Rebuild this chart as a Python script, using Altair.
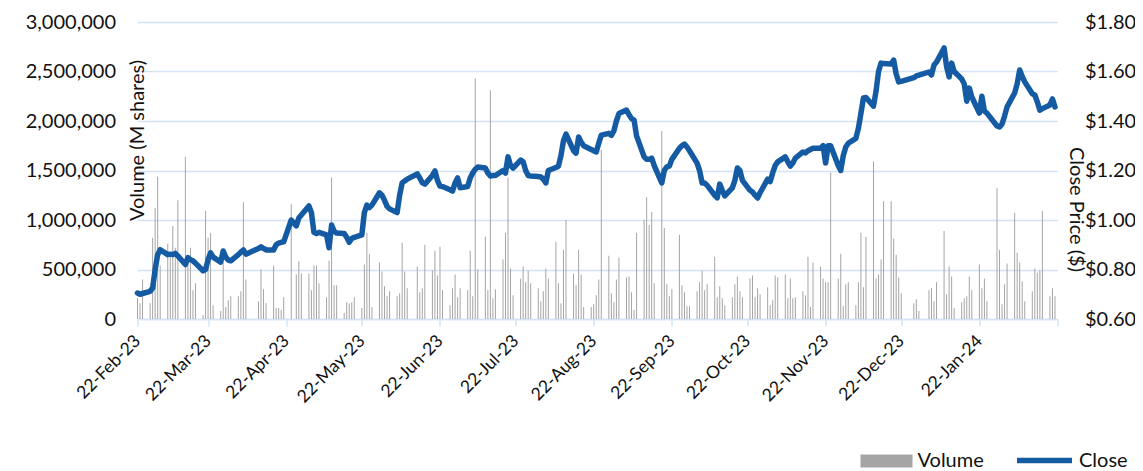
import altair as alt
import pandas as pd

# ASX non-trading days inside the period
holidays = ["2023-04-07", "2023-04-10", "2023-04-25", "2023-06-12",
            "2023-12-25", "2023-12-26", "2024-01-01", "2024-01-26"]

# Close price ($), one value per trading day (rows = Wed..Tue weeks)
close = [
    0.705, 0.700, 0.703, 0.712, 0.725,
    0.80, 0.86, 0.88, 0.86, 0.862,
    0.86, 0.865, 0.855, 0.82, 0.848,
    0.84, 0.835, 0.826, 0.795, 0.80,
    0.84, 0.867, 0.85, 0.83, 0.875,
    0.85, 0.838, 0.835, 0.86, 0.87,
    0.879, 0.862, 0.885,
    0.892, 0.885, 0.879, 0.879, 0.90,
    0.907, 0.91, 0.912, 1.0,
    0.976, 1.008, 1.02, 1.057, 1.03,
    0.95, 0.945, 0.95, 0.94, 0.888,
    0.98, 0.955, 0.947, 0.945, 0.93,
    0.91, 0.925, 0.93, 0.94, 1.03,
    1.06, 1.05, 1.06, 1.11, 1.10,
    1.08, 1.055, 1.045, 1.03, 1.10,
    1.15, 1.158, 1.165, 1.186,
    1.17, 1.15, 1.145, 1.18, 1.198,
    1.16, 1.137, 1.135, 1.122, 1.117,
    1.15, 1.17, 1.13, 1.135, 1.17,
    1.19, 1.205, 1.214, 1.21, 1.19,
    1.178, 1.18, 1.18, 1.20, 1.19,
    1.255, 1.22, 1.21, 1.242, 1.235,
    1.20, 1.18, 1.178, 1.176, 1.174,
    1.165, 1.15, 1.20, 1.212, 1.218,
    1.26, 1.32, 1.347, 1.28, 1.27,
    1.335, 1.315, 1.30, 1.285, 1.28,
    1.275, 1.31, 1.343, 1.35, 1.342,
    1.36, 1.40, 1.43, 1.444, 1.425,
    1.41, 1.404, 1.34, 1.255, 1.245,
    1.245, 1.25, 1.22, 1.15, 1.20,
    1.215, 1.218, 1.245, 1.29, 1.30,
    1.307, 1.295, 1.28, 1.23, 1.20,
    1.15, 1.15, 1.14, 1.10, 1.09,
    1.145, 1.12, 1.097, 1.13, 1.16,
    1.21, 1.20, 1.16, 1.12, 1.113,
    1.10, 1.089, 1.11, 1.165, 1.155,
    1.19, 1.22, 1.235, 1.255, 1.235,
    1.218, 1.23, 1.25, 1.275, 1.271,
    1.28, 1.285, 1.29, 1.29, 1.30,
    1.23, 1.30, 1.30, 1.22, 1.20,
    1.26, 1.295, 1.31, 1.33, 1.37,
    1.43, 1.493, 1.495, 1.46, 1.52,
    1.60, 1.634, 1.632, 1.63, 1.646,
    1.59, 1.558, 1.56,
    1.575, 1.582, 1.585, 1.598,
    1.586, 1.626, 1.638, 1.695, 1.62,
    1.578, 1.634, 1.60, 1.57, 1.55,
    1.48, 1.533, 1.497, 1.432, 1.50,
    1.44, 1.432, 1.38, 1.376,
    1.388, 1.42, 1.457, 1.513, 1.55,
    1.606, 1.58, 1.558, 1.51, 1.505,
    1.477, 1.444, 1.45, 1.465, 1.489,
    1.457,
]

# Daily volume, thousands of shares
volume_k = [
    210, 160, 400, 160, 820,
    1120, 1440, 540, 760, 630,
    940, 720, 1200, 1640, 630,
    720, 290, 360, 40, 1090,
    820, 870, 140, 80, 570,
    120, 190, 230, 230, 280,
    1180, 400, 180,
    500, 300, 160, 540, 110,
    110, 90, 220, 1160,
    450, 580, 460, 460, 290,
    540, 540, 360, 220, 590,
    1430, 340, 340, 60, 170,
    160, 170, 220, 110, 550,
    870, 660, 120, 570, 480,
    330, 230, 280, 230, 260,
    770, 480, 310, 530,
    270, 310, 750, 490, 690,
    440, 730, 290, 140, 310,
    450, 220, 310, 290, 690,
    230, 2430, 500, 830, 290,
    2310, 210, 300, 600, 870,
    1430, 510, 240, 410, 530,
    370, 490, 360, 310, 180,
    280, 510, 410, 780, 360,
    160, 700, 1000, 460, 340,
    700, 450, 120, 120, 150,
    240, 400, 1710, 640, 260,
    170, 400, 620, 420, 430,
    270, 90, 870, 1000, 1230,
    950, 1080, 360, 1900, 920,
    350, 230, 300, 850, 340,
    270, 130, 130, 280, 370,
    490, 290, 350, 630, 220,
    330, 210, 140, 220, 350,
    430, 280, 220, 410, 440,
    220, 310, 250, 320, 140,
    190, 440, 420, 450, 210,
    410, 210, 220, 280, 240,
    630, 120, 570, 530, 410,
    370, 370, 1480, 410, 660,
    130, 350, 370, 140, 370,
    870, 320, 830, 1590, 410,
    450, 600, 1190, 1190, 810,
    650, 420, 260,
    160, 200, 80, 290,
    310, 180, 370, 890, 250,
    530, 430, 110, 170, 210,
    230, 430, 290, 550, 310,
    410, 180, 1320, 700,
    150, 350, 560, 1070, 670,
    570, 380, 180, 280, 510,
    470, 490, 1090, 230, 310,
    230,
]

vol_ticks = [0, 500000, 1000000, 1500000, 2000000, 2500000, 3000000]
price_ticks = [0.6, 0.8, 1.0, 1.2, 1.4, 1.6, 1.8]
tick_months = [(2023, m) for m in range(2, 13)] + [(2024, 1), (2024, 2)]

dates = [d.strftime("%Y-%m-%d") for d in pd.bdate_range("2023-02-22", "2024-02-21")
         if d.strftime("%Y-%m-%d") not in holidays]

df = pd.DataFrame({
    "date": dates,
    "close": close,
    "volume": [v * 1000 for v in volume_k],
    "vol_series": "Volume",
    "close_series": "Close",
})

GRID = "#D3E4F6"
BLUE = "#155BA3"
GRAY = "#A5A5A5"
FONT = "Lato"

x_enc = alt.X(
    "date:T",
    scale=alt.Scale(
        type="utc",
        padding=0,
        domain=[alt.DateTime(year=2023, month=2, date=22, utc=True),
                alt.DateTime(year=2024, month=2, date=22, utc=True)],
    ),
    axis=alt.Axis(
        title=None,
        values=[alt.DateTime(year=y, month=m, date=22, utc=True) for (y, m) in tick_months],
        format="%d-%b-%y",
        labelExpr="datum.value > 1708000000000 ? '' : datum.label",
        labelAngle=-45,
        labelAlign="right",
        labelBaseline="middle",
        labelPadding=12,
        labelFontSize=17.5,
        grid=False,
        domainColor=GRID,
        domainWidth=1.5,
        tickColor=GRID,
        tickWidth=1.5,
        tickSize=7,
        labelOverlap=False,
    ),
)

bars = alt.Chart(df).mark_bar(width=1).encode(
    x=x_enc,
    y=alt.Y(
        "volume:Q",
        scale=alt.Scale(domain=[0, 3000000], nice=False, zero=True),
        axis=alt.Axis(
            orient="left",
            values=vol_ticks,
            format=",d",
            title="Volume (M shares)",
            titleAngle=-90,
            titleX=0,
            titleY=118,
            titleAlign="center",
            titleBaseline="middle",
            titleFontSize=20,
            titleFontWeight="normal",
            labelFontSize=20,
            labelPadding=22,
            grid=True,
            gridColor=GRID,
            gridWidth=1.5,
            domain=False,
            ticks=False,
        ),
    ),
    fill=alt.Fill(
        "vol_series:N",
        scale=alt.Scale(domain=["Volume"], range=[GRAY]),
        legend=alt.Legend(
            title=None,
            orient="none",
            legendX=723,
            legendY=413,
            symbolType="M-1,-0.25H1V0.25H-1Z",
            symbolSize=2704,
            symbolStrokeWidth=0,
            labelOffset=5,
            labelFontSize=20,
            padding=0,
        ),
    ),
)

line = alt.Chart(df).mark_line(strokeWidth=5.5, strokeJoin="round", strokeCap="round").encode(
    x=x_enc,
    y=alt.Y(
        "close:Q",
        scale=alt.Scale(domain=[0.6, 1.8], nice=False, zero=False),
        axis=alt.Axis(
            orient="right",
            values=price_ticks,
            format="$.2f",
            title="Close Price ($)",
            titleAngle=90,
            titleX=18,
            titleY=187,
            titleAlign="center",
            titleBaseline="middle",
            titleFontSize=20,
            titleFontWeight="normal",
            labelFontSize=20,
            labelPadding=27,
            grid=False,
            domain=False,
            ticks=False,
        ),
    ),
    stroke=alt.Stroke(
        "close_series:N",
        scale=alt.Scale(domain=["Close"], range=[BLUE]),
        legend=alt.Legend(
            title=None,
            orient="none",
            legendX=876.5,
            legendY=408,
            symbolType="stroke",
            symbolSize=3025,
            symbolStrokeWidth=5.5,
            labelOffset=4,
            labelFontSize=20,
            padding=0,
        ),
    ),
)

chart = (
    alt.layer(bars, line)
    .resolve_scale(y="independent")
    .properties(
        width=920,
        height=297,
        autosize=alt.AutoSizeParams(type="none"),
        padding={"left": 129.5, "top": 14, "right": 77.5, "bottom": 169},
    )
    .configure_view(stroke=None)
    .configure_axis(labelFont=FONT, titleFont=FONT, labelColor="#111111", titleColor="#111111")
    .configure_legend(labelFont=FONT, labelColor="#111111")
)

chart.save("out.html", embed_options={"renderer": "svg", "actions": False})
